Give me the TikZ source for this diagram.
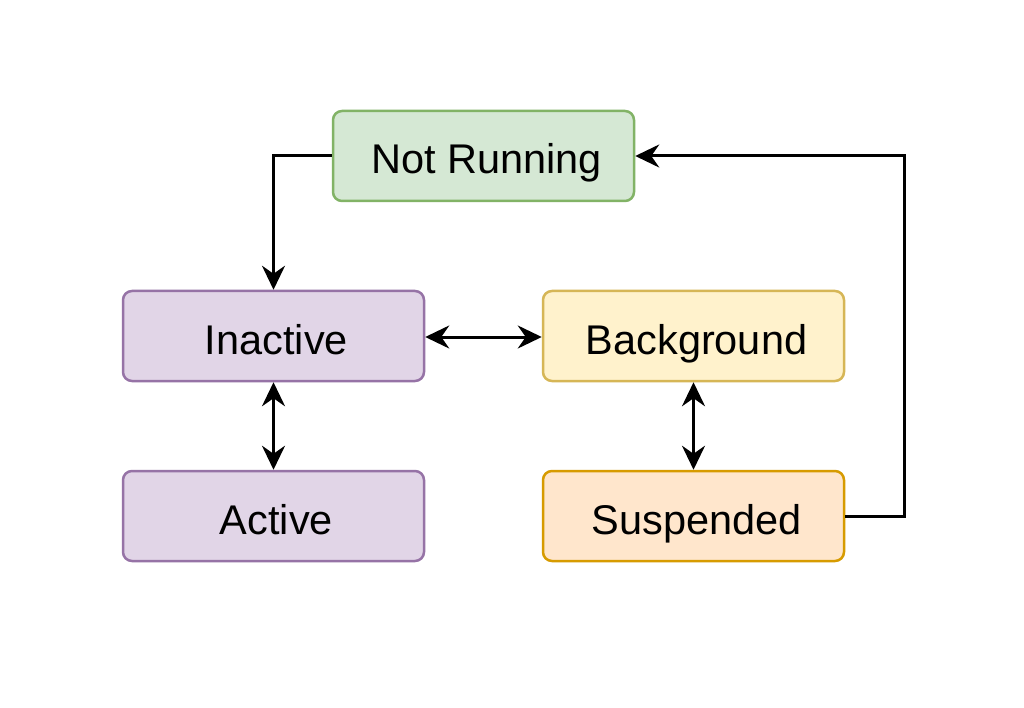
\documentclass[tikz,border=0pt]{standalone}
\usepackage{fontspec}
\setmainfont{Liberation Sans}
\usetikzlibrary{arrows.meta}
\definecolor{gfill}{HTML}{D5E8D4}\definecolor{gdraw}{HTML}{82B366}
\definecolor{pfill}{HTML}{E1D5E7}\definecolor{pdraw}{HTML}{9673A6}
\definecolor{yfill}{HTML}{FFF2CC}\definecolor{ydraw}{HTML}{D6B656}
\definecolor{ofill}{HTML}{FFE6CC}\definecolor{odraw}{HTML}{D79B00}
\begin{document}
\begin{tikzpicture}[x=1pt,y=-1pt,
  state/.style={rounded corners=9pt, line width=2.5pt, minimum width=301pt, minimum height=90pt, inner sep=0pt, text height=36pt, text depth=0pt, font=\fontsize{41.5}{48}\selectfont, text=black, execute at begin node={\hspace*{6pt}}},
  conn/.style={line width=3pt, black, -{Stealth[length=24pt,width=23pt,inset=8pt]}},
  bconn/.style={line width=3pt, black, {Stealth[length=24pt,width=23pt,inset=8pt]}-{Stealth[length=24pt,width=23pt,inset=8pt]}}]
\useasboundingbox (0,0) rectangle (1024,708);
\fill[white] (0,0) rectangle (1024,708);
\node[state, fill=gfill, draw=gdraw] (nr) at (483.5,156) {Not Running};
\node[state, fill=pfill, draw=pdraw] (ina) at (273.5,336) {Inactive};
\node[state, fill=yfill, draw=ydraw] (bg) at (693.5,336) {Background};
\node[state, fill=pfill, draw=pdraw] (act) at (273.5,516) {Active};
\node[state, fill=ofill, draw=odraw] (sus) at (693.5,516) {Suspended};
\draw[conn] (nr.west) -| (ina.north);
\draw[bconn] (ina.east |- 0,337) -- (bg.west |- 0,337);
\draw[bconn] (ina.south) -- (act.north);
\draw[bconn] (bg.south) -- (sus.north);
\coordinate (rc) at (904,516);
\draw[conn] (sus.east) -- (rc) |- (nr.east);
\end{tikzpicture}
\end{document}
